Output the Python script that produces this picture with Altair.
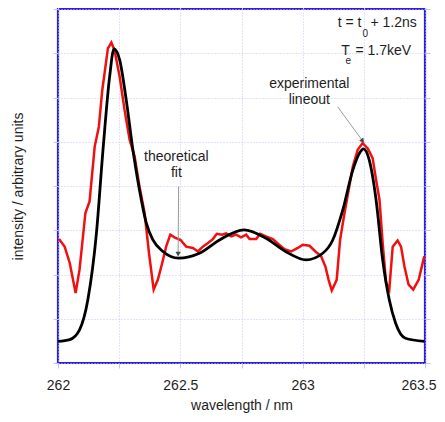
import altair as alt
import pandas as pd

# theoretical fit (black)
wl_theory = [262.0, 262.048, 262.088, 262.122, 262.157, 262.184, 262.211, 262.229, 262.252,
             262.279, 262.306, 262.333, 262.361, 262.388, 262.429, 262.493, 262.578, 262.66,
             262.76, 262.85, 262.93, 263.014, 263.082, 263.123, 263.164, 263.205, 263.232,
             263.249, 263.272, 263.30, 263.327, 263.354, 263.38, 263.42, 263.497]
int_theory = [0.49, 0.53, 0.75, 1.43, 2.93, 4.82, 6.47, 7.10, 6.85,
              5.94, 4.82, 3.91, 3.16, 2.78, 2.52, 2.37, 2.48, 2.78,
              3.01, 2.82, 2.52, 2.33, 2.48, 2.78, 3.46, 4.36, 4.74,
              4.84, 4.59, 3.69, 2.33, 1.43, 0.90, 0.56, 0.49]

# experimental lineout (red)
wl_exp = [262.004, 262.027, 262.048, 262.072, 262.088, 262.112, 262.129, 262.15, 262.167,
          262.181, 262.204, 262.218, 262.231, 262.252, 262.272, 262.293, 262.313, 262.333,
          262.354, 262.372, 262.391, 262.408, 262.426, 262.442, 262.459, 262.476, 262.501,
          262.524, 262.551, 262.572, 262.592, 262.613, 262.633, 262.649, 262.671, 262.687,
          262.708, 262.728, 262.748, 262.769, 262.783, 262.81, 262.826, 262.85, 262.878,
          262.905, 262.926, 262.953, 262.98, 263.0, 263.028, 263.052, 263.075, 263.093,
          263.106, 263.119, 263.139, 263.153, 263.171, 263.188, 263.205, 263.225, 263.245,
          263.266, 263.286, 263.3, 263.314, 263.327, 263.341, 263.354, 263.368, 263.388,
          263.402, 263.416, 263.433, 263.452, 263.474, 263.497]
int_exp = [2.80, 2.63, 2.26, 1.58, 2.11, 3.39, 3.65, 4.89, 5.34,
           6.17, 7.11, 7.24, 7.07, 6.47, 5.72, 5.04, 4.67, 3.99,
           3.39, 2.48, 1.66, 1.88, 2.26, 2.63, 2.90, 2.84, 2.78,
           2.63, 2.60, 2.52, 2.63, 2.71, 2.80, 2.92, 2.90, 2.93,
           2.86, 2.90, 2.84, 2.90, 2.80, 2.80, 2.92, 2.86, 2.80,
           2.67, 2.57, 2.52, 2.60, 2.67, 2.65, 2.52, 2.42, 2.18,
           1.88, 1.64, 1.88, 2.78, 3.39, 3.91, 4.44, 4.82, 4.97,
           4.85, 4.63, 4.14, 3.69, 2.71, 1.81, 1.66, 2.63, 2.77,
           2.63, 2.18, 1.77, 1.66, 1.88, 2.41]

x_ticks = [262, 262.25, 262.5, 262.75, 263, 263.25, 263.5]
y_ticks = [0, 1, 2, 3, 4, 5, 6, 7, 8]

FONT = "Liberation Sans"
GRID = "#c4c4f2"
TXT = "#1e1e1e"

theory = pd.DataFrame({"wl": wl_theory, "I": int_theory})
exp = pd.DataFrame({"wl": wl_exp, "I": int_exp})

xs = alt.Scale(domain=[262, 263.5], nice=False, zero=False)
ys = alt.Scale(domain=[0, 8], nice=False, zero=False)

x_axis = alt.Axis(values=x_ticks, grid=True, gridColor=GRID, gridDash=[1, 2], gridWidth=1,
                  domain=False, ticks=True, tickColor=GRID, tickSize=5,
                  labelExpr="(datum.value*2)%1==0 ? toString(datum.value) : ''",
                  labelFlush=False,
                  labelAlign={"condition": {"test": "datum.value >= 263.5", "value": "right"},
                              "value": "center"},
                  labelOffset={"condition": {"test": "datum.value >= 263.5", "value": 11},
                               "value": 0},
                  labelFont=FONT, labelFontSize=14, labelColor=TXT, labelPadding=10,
                  title="wavelength / nm", titleFont=FONT, titleFontSize=14,
                  titleFontWeight="normal", titleColor=TXT, titlePadding=6)
y_axis = alt.Axis(values=y_ticks, grid=True, gridColor=GRID, gridDash=[1, 2], gridWidth=1,
                  domain=False, ticks=True, tickColor=GRID, tickSize=5, labels=False,
                  title="intensity / arbitrary units", titleFont=FONT, titleFontSize=14,
                  titleFontWeight="normal", titleColor=TXT, titlePadding=27)

red = alt.Chart(exp).mark_line(color="#f01010", strokeWidth=2.5).encode(
    x=alt.X("wl:Q", scale=xs, axis=x_axis),
    y=alt.Y("I:Q", scale=ys, axis=y_axis),
)
black = alt.Chart(theory).mark_line(color="#000000", strokeWidth=2.8, interpolate="monotone").encode(
    x=alt.X("wl:Q", scale=xs, axis=None),
    y=alt.Y("I:Q", scale=ys, axis=None),
)

# extra ticks on top and right
frame_ticks = alt.Chart(theory).mark_line(opacity=0).encode(
    x=alt.X("wl:Q", scale=xs, axis=alt.Axis(orient="top", values=x_ticks, grid=False, domain=False,
                                             labels=False, tickColor=GRID, tickSize=5, title=None)),
    y=alt.Y("I:Q", scale=ys, axis=alt.Axis(orient="right", values=y_ticks, grid=False, domain=False,
                                            labels=False, tickColor=GRID, tickSize=5, title=None)),
)

# annotation arrows
arrows = pd.DataFrame({
    "x": [263.143, 262.493], "y": [5.79, 3.99],
    "x2": [263.245, 262.491], "y2": [5.02, 2.46],
})
arrow_lines = alt.Chart(arrows).mark_rule(color="#9a9a9a", strokeWidth=1).encode(
    x=alt.X("x:Q", scale=xs, axis=None), y=alt.Y("y:Q", scale=ys, axis=None), x2="x2:Q", y2="y2:Q")
heads = pd.DataFrame({"x": [263.245, 262.491], "y": [5.02, 2.46], "ang": [323, 0]})
arrow_heads = alt.Chart(heads).mark_point(shape="triangle-down", filled=True, color="#444444",
                                          size=28, opacity=1).encode(
    x=alt.X("x:Q", scale=xs, axis=None), y=alt.Y("y:Q", scale=ys, axis=None),
    angle=alt.Angle("ang:Q", scale=None))


def label(rows, align, size=14):
    df = pd.DataFrame(rows, columns=["x", "y", "t"])
    return alt.Chart(df).mark_text(align=align, baseline="alphabetic", font=FONT,
                                   fontSize=size, color=TXT).encode(
        x=alt.X("x:Q", scale=xs, axis=None), y=alt.Y("y:Q", scale=ys, axis=None), text="t:N")


texts = [
    label([(263.240, 7.59, "t = t")], "right"),
    label([(263.256, 7.37, "0"), (263.186, 6.76, "e")], "center", 10),
    label([(263.277, 7.59, "+ 1.2ns")], "left"),
    label([(263.158, 6.96, "T")], "left"),
    label([(263.216, 6.96, "= 1.7keV")], "left"),
    label([(263.027, 6.22, "experimental"), (263.027, 5.86, "lineout"),
           (262.484, 4.57, "theoretical"), (262.484, 4.21, "fit")], "center"),
]

chart = alt.layer(red, black, frame_ticks, arrow_lines, arrow_heads, *texts).resolve_axis(
    x="independent", y="independent"
).properties(
    width=367, height=354,
    autosize=alt.AutoSizeParams(type="none"),
    padding={"left": 50, "top": 1, "right": 12, "bottom": 51},
).configure_view(stroke="#2b1fe0", strokeWidth=2.2)

chart.save("out.html", embed_options={"renderer": "svg", "actions": False})
